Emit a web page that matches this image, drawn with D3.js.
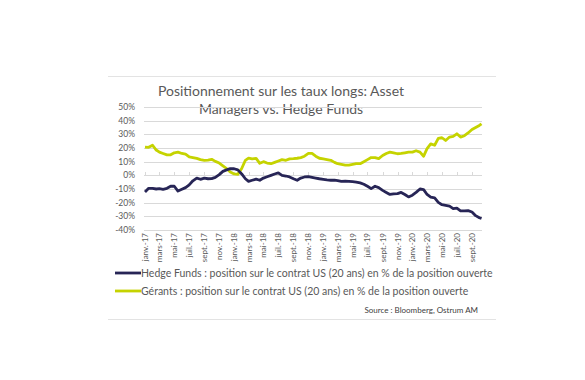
<!DOCTYPE html>
<html><head><meta charset="utf-8">
<script src="https://cdn.jsdelivr.net/npm/d3@7"></script>
<style>html,body{margin:0;padding:0;background:#fff;}svg{display:block;}</style>
</head><body>
<svg id="chart" width="585" height="380"></svg>
<script>
// ---- DATA ----
const dates = [
"2017-01-01","2017-01-16","2017-02-01","2017-02-16","2017-03-01","2017-03-16","2017-04-01","2017-04-16",
"2017-05-01","2017-05-16","2017-06-01","2017-06-16","2017-07-01","2017-07-16","2017-08-01","2017-08-16",
"2017-09-01","2017-09-16","2017-10-01","2017-10-16","2017-11-01","2017-11-16","2017-12-01","2017-12-16",
"2018-01-01","2018-01-16","2018-02-01","2018-02-16","2018-03-01","2018-03-16","2018-04-01","2018-04-16",
"2018-05-01","2018-05-16","2018-06-01","2018-06-16","2018-07-01","2018-07-16","2018-08-01","2018-08-16",
"2018-09-01","2018-09-16","2018-10-01","2018-10-16","2018-11-01","2018-11-16","2018-12-01","2018-12-16",
"2019-01-01","2019-01-16","2019-02-01","2019-02-16","2019-03-01","2019-03-16","2019-04-01","2019-04-16",
"2019-05-01","2019-05-16","2019-06-01","2019-06-16","2019-07-01","2019-07-16","2019-08-01","2019-08-16",
"2019-09-01","2019-09-16","2019-10-01","2019-10-16","2019-11-01","2019-11-16","2019-12-01","2019-12-16",
"2020-01-01","2020-01-16","2020-02-01","2020-02-16","2020-03-01","2020-03-16","2020-04-01","2020-04-16",
"2020-05-01","2020-05-16","2020-06-01","2020-06-16","2020-07-01","2020-07-16","2020-08-01","2020-08-16",
"2020-09-01","2020-09-16","2020-10-01","2020-10-10"
];
const hedgeFunds = [
-12.2,-9.5,-9.5,-10,-9.7,-10.2,-9.5,-8,-8,-11.5,-10.2,-9,-7,-4,-2,-2.9,
-2,-2.5,-2.4,-1.5,0.5,2.9,4,4.9,4.8,4,1,-2.5,-4.4,-3.6,-2.8,-3.6,
-2,-1,0,1,1.8,0,-0.5,-1.2,-2.5,-3.6,-2,-1.2,-1,-1.5,-2,-2.5,
-2.9,-3.3,-3.6,-3.5,-3.8,-4.4,-4.2,-4.4,-4.6,-4.9,-5.5,-6.5,-8,-9.7,-8,-9,
-11,-12.5,-14,-13.5,-13.4,-12.5,-14,-15.8,-14.5,-12.5,-10,-10.5,-14,-16,-16.5,-19.8,
-21.5,-22,-22.5,-24.3,-24,-26,-26,-25.8,-26.8,-29.5,-31,-31.6
];
const gerants = [
20.7,20.5,22,18.5,17,16,15,15,16.5,17,16,15.5,13.5,13,12.4,11.5,
11,11.2,11.7,10.2,9,7,5,2.5,1,0.7,5,11,12.6,12,12.4,8.8,
10,9,8.5,9.5,10.5,11.5,11,12,12.2,12.5,13,14,16,16,14,12.5,
12,11.5,11,9.5,8.5,8,7.5,7.5,8,8.5,8.5,10,11.5,13,13,12.2,
14.5,16,17,16.5,15.8,16,16.5,17,17,18,17,14,19.5,23,22,27,
27.5,25.5,28,28.5,30.4,28,29,31,33.5,35,36.5,37.7
];
const yTicks = [50,40,30,20,10,0,-10,-20,-30,-40];
const monthLabels = ["janv.","févr.","mars","avr.","mai","juin","juil.","août","sept.","oct.","nov.","déc."];
const tickDates = ["2017-01-01","2017-03-01","2017-05-01","2017-07-01","2017-09-01","2017-11-01",
"2018-01-01","2018-03-01","2018-05-01","2018-07-01","2018-09-01","2018-11-01",
"2019-01-01","2019-03-01","2019-05-01","2019-07-01","2019-09-01","2019-11-01",
"2020-01-01","2020-03-01","2020-05-01","2020-07-01","2020-09-01"];
const seriesNames = ["Hedge Funds : position sur le contrat US (20 ans) en % de la position ouverte",
"Gérants : position sur le contrat US (20 ans) en % de la position ouverte"];
const titleLines = ["Positionnement  sur les taux longs: Asset","Managers vs. Hedge Funds"];
const sourceText = "Source : Bloomberg, Ostrum AM";

// ---- CHART ----
const parse = d3.timeParse("%Y-%m-%d");
const svg = d3.select("#chart");
const font = "Lato, 'Open Sans', sans-serif";
const NAVY = "#272556", LIME = "#c5d300", GRID = "#d9d9d9", TXT = "#595959";

const x = d3.scaleTime().domain([parse("2017-01-01"), parse("2020-09-01")]).range([145, 472]);
const y = d3.scaleLinear().domain([-40, 50]).range([230, 107]);
const gridX0 = 144, gridX1 = 482;

// frame lines
svg.append("line").attr("x1",108).attr("x2",496).attr("y1",76.5).attr("y2",76.5).attr("stroke","#e3e3e3");
svg.append("line").attr("x1",108).attr("x2",496).attr("y1",319.5).attr("y2",319.5).attr("stroke","#e3e3e3");

// title
svg.selectAll("text.title").data(titleLines).join("text")
  .attr("x",281).attr("y",(d,i)=>96+i*18).attr("text-anchor","middle")
  .attr("font-family",font).attr("font-size",14).attr("fill",TXT).text(d=>d);

// gridlines
svg.append("g").selectAll("line").data(yTicks).join("line")
  .attr("x1",gridX0).attr("x2",gridX1)
  .attr("y1",d=>Math.round(y(d))+0.5).attr("y2",d=>Math.round(y(d))+0.5)
  .attr("stroke",GRID).attr("stroke-width",1);

// y axis labels
svg.append("g").selectAll("text").data(yTicks).join("text")
  .attr("x",135).attr("y",d=>y(d)).attr("dy","0.35em").attr("text-anchor","end")
  .attr("font-family",font).attr("font-size",8.5).attr("fill",TXT).text(d=>d+"%");

// tick marks on 0 axis
const tD = tickDates.map(parse);
svg.append("g").selectAll("line").data(tD).join("line")
  .attr("x1",d=>Math.round(x(d))+0.5).attr("x2",d=>Math.round(x(d))+0.5)
  .attr("y1",Math.round(y(0))+0.5).attr("y2",Math.round(y(0))-3)
  .attr("stroke",GRID);

// x labels
const fmt = d => monthLabels[d.getMonth()] + "-" + String(d.getFullYear()).slice(2);
svg.append("g").selectAll("text").data(tD).join("text")
  .attr("transform",d=>`translate(${x(d)+3},233) rotate(-90)`)
  .attr("text-anchor","end")
  .attr("font-family",font).attr("font-size",8).attr("fill",TXT).text(fmt);

// lines
const pts = dates.map(parse);
const line = d3.line().x((d,i)=>x(pts[i])).y(d=>y(d));
svg.append("path").datum(gerants).attr("d",line).attr("fill","none")
  .attr("stroke",LIME).attr("stroke-width",2.8).attr("stroke-linejoin","round");
svg.append("path").datum(hedgeFunds).attr("d",line).attr("fill","none")
  .attr("stroke",NAVY).attr("stroke-width",2.8).attr("stroke-linejoin","round");

// legend
const legColors = [NAVY, LIME];
const leg = svg.append("g").selectAll("g").data(seriesNames).join("g")
  .attr("transform",(d,i)=>`translate(0,${273+i*18})`);
leg.append("line").attr("x1",115).attr("x2",141).attr("y1",0).attr("y2",0)
  .attr("stroke",(d,i)=>legColors[i]).attr("stroke-width",2.8);
leg.append("text").attr("x",141).attr("y",0).attr("dy","0.35em")
  .attr("font-family",font).attr("font-size",10.5).attr("fill",TXT).text(d=>d);

// source
svg.append("text").attr("x",478).attr("y",310).attr("dy","0.35em").attr("text-anchor","end")
  .attr("font-family",font).attr("font-size",8).attr("fill","#404040").text(sourceText);
</script>
</body></html>
